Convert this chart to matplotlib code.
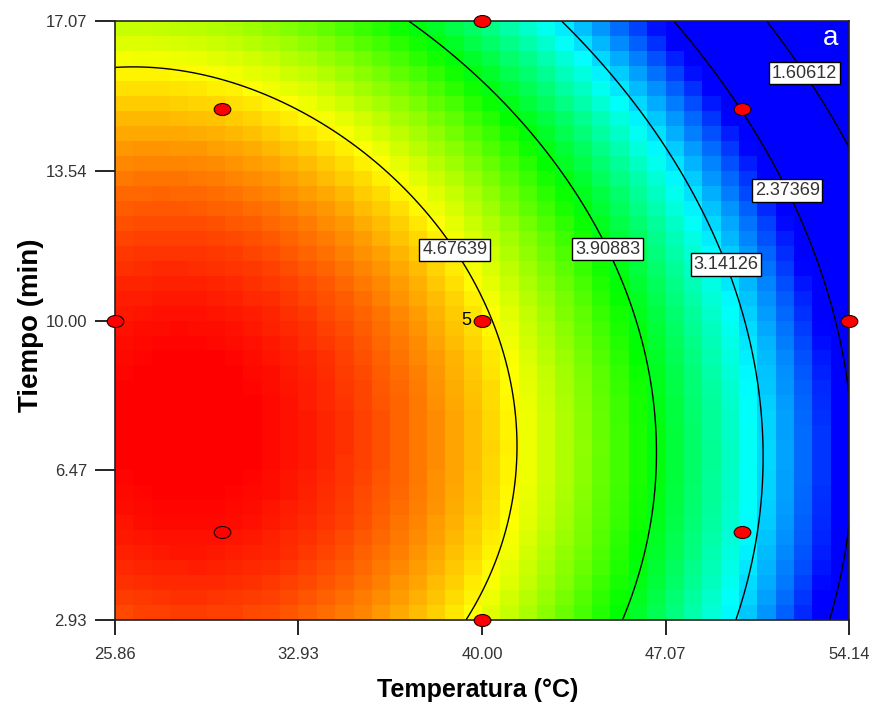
import numpy as np
import matplotlib.pyplot as plt
from matplotlib.colors import LinearSegmentedColormap
from matplotlib.path import Path
from matplotlib.transforms import Affine2D

# fitted model in coded units (A = temperatura, B = tiempo)
b0 = 4.72
bA, bB = -1.09, -0.365
bAA, bBB = -0.465, -0.3115
bAB, bABB = -0.0852, -0.0405

temp_ticks = [25.86, 32.93, 40.00, 47.07, 54.14]
time_ticks = [2.93, 6.47, 10.00, 13.54, 17.07]
levels = [1.60612, 2.37369, 3.14126, 3.90883, 4.67639]

# design points (central composite)
design_temp = [25.86, 30, 30, 40, 40, 40, 50, 50, 54.14]
design_time = [10, 15, 5, 17.07, 10, 2.93, 15, 5, 10]
center_reps = 5

# where the contour values are written
label_pos = [(39.35, 11.83), (44.93, 11.71), (49.44, 11.33), (51.79, 13.08), (52.60, 15.91)]

color_range = (2.5, 5.4)


def response(T, t):
    A = (T - 40) / 10
    B = (t - 10) / 5
    return (b0 + bA * A + bB * B + bAA * A**2 + bBB * B**2
            + bAB * A * B + bABB * A * B**2)


cmap = LinearSegmentedColormap.from_list(
    'de', ['#0000ff', '#00ffff', '#00ff00', '#ffff00', '#ff0000'])

fig = plt.figure(figsize=(8.69, 7.13), dpi=100)
ax = fig.add_axes([0.1323, 0.1304, 0.8447, 0.8401])

# blocky 40x40 colour grid
xe = np.linspace(temp_ticks[0], temp_ticks[-1], 41)
ye = np.linspace(time_ticks[0], time_ticks[-1], 41)
xc = (xe[:-1] + xe[1:]) / 2
yc = (ye[:-1] + ye[1:]) / 2
XC, YC = np.meshgrid(xc, yc)
ax.pcolormesh(xe, ye, response(XC, YC), cmap=cmap,
              vmin=color_range[0], vmax=color_range[1], shading='flat')

# smooth contour lines
xf = np.linspace(temp_ticks[0], temp_ticks[-1], 300)
yf = np.linspace(time_ticks[0], time_ticks[-1], 300)
XF, YF = np.meshgrid(xf, yf)
cs = ax.contour(XF, YF, response(XF, YF), levels=levels, colors='black', linewidths=1.0)
labels = ax.clabel(cs, manual=label_pos, inline=False, fmt='%.5f', fontsize=13, colors='#333333')
for lb in labels:
    lb.set_rotation(0)
    lb.set_family('Liberation Sans')
    lb.set_bbox(dict(boxstyle='square,pad=0.15', fc='white', ec='black', lw=1.0))

# design points as small ellipses
ell = Path.unit_circle().transformed(Affine2D().scale(1, 0.72))
ax.plot(design_temp, design_time, linestyle='none', marker=ell, ms=12,
        mfc='#ff0000', mec='#200000', mew=0.8, clip_on=False, zorder=5)
ax.annotate(str(center_reps), (40, 10), xytext=(-8, 0), textcoords='offset points',
            ha='right', va='center', fontsize=13, family='Liberation Sans', color='black')

ax.text(0.975, 0.972, 'a', transform=ax.transAxes, ha='center', va='center',
        fontsize=20, color='white', family='Liberation Sans')

ax.set_xlim(temp_ticks[0], temp_ticks[-1])
ax.set_ylim(time_ticks[0], time_ticks[-1])
ax.set_xticks(temp_ticks)
ax.set_xticklabels([f'{v:.2f}' for v in temp_ticks])
ax.set_yticks(time_ticks)
ax.set_yticklabels([f'{v:.2f}' for v in time_ticks])
for lbl in ax.get_xticklabels() + ax.get_yticklabels():
    lbl.set_family(['Liberation Sans Narrow', 'Liberation Sans'])
ax.tick_params(axis='y', direction='out', length=14.4, width=1.2, pad=5.8,
               labelsize=12, labelcolor='#333333')
ax.tick_params(axis='x', direction='out', length=10.8, width=1.2, pad=8.6,
               labelsize=12, labelcolor='#333333')
for sp in ax.spines.values():
    sp.set_linewidth(1.2)
    sp.set_color('#222222')

fig.text(478 / 869, 1 - 690 / 713, 'Temperatura (°C)', ha='center', va='center',
         fontsize=18, fontweight='bold', family='Liberation Sans')
fig.text(31 / 869, 1 - 325 / 713, 'Tiempo (min)', ha='center', va='center', rotation=90,
         fontsize=20, fontweight='bold', family='Liberation Sans')

fig.savefig('out.png', dpi=100)
